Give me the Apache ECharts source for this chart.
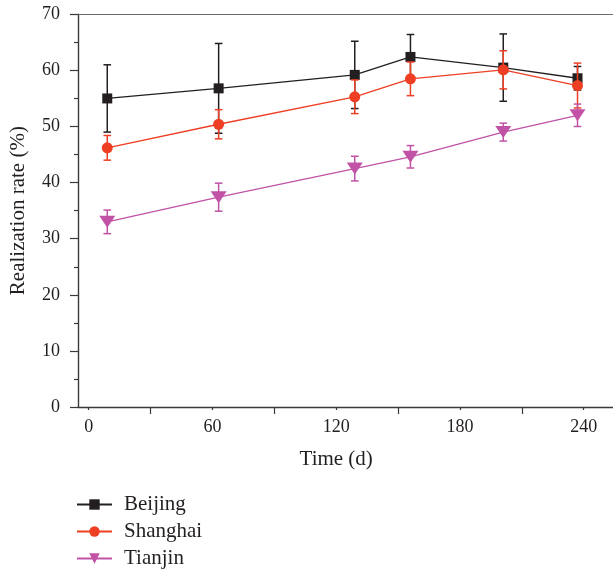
<!DOCTYPE html>
<html>
<head>
<meta charset="utf-8">
<script src="https://cdn.jsdelivr.net/npm/echarts@6/dist/echarts.min.js"></script>
<style>
html,body{margin:0;padding:0;background:#fff;}
#chart{width:613px;height:571px;}
</style>
</head>
<body>
<div id="chart"></div>
<script>
// ---- data ----
var timeDays = [9, 63, 129, 156, 201, 237];
var beijing = [55.0, 56.8, 59.2, 62.4, 60.5, 58.6];
var beijingErr = [6.0, 8.0, 6.0, 4.0, 6.0, 2.1];
var shanghai = [46.2, 50.4, 55.3, 58.5, 60.1, 57.3];
var shanghaiErr = [2.2, 2.6, 3.0, 3.0, 3.4, 4.0];
var tianjin = [33.0, 37.4, 42.5, 44.6, 49.0, 52.0];
var tianjinErr = [2.1, 2.5, 2.2, 2.0, 1.6, 2.0];
var seriesNames = ['Beijing', 'Shanghai', 'Tianjin'];
var xTicks = [0, 60, 120, 180, 240];
var yTicks = [0, 10, 20, 30, 40, 50, 60, 70];

var colors = ['#231f20', '#ee3e24', '#c152a5'];
var FONT = '"Liberation Serif", "Times New Roman", serif';
var TXT = '#231f20';

function pairs(xs, ys) { return xs.map(function (x, i) { return [x, ys[i]]; }); }
function triples(xs, ys, es) { return xs.map(function (x, i) { return [x, ys[i], es[i]]; }); }

function errorRender(color) {
  return function (params, api) {
    var x = api.value(0), y = api.value(1), e = api.value(2);
    var top = api.coord([x, y + e]);
    var bot = api.coord([x, y - e]);
    var hw = 3.8;
    var st = { stroke: color, lineWidth: 1.5 };
    return {
      type: 'group',
      children: [
        { type: 'line', shape: { x1: top[0], y1: top[1], x2: bot[0], y2: bot[1] }, style: st },
        { type: 'line', shape: { x1: top[0] - hw, y1: top[1], x2: top[0] + hw, y2: top[1] }, style: st },
        { type: 'line', shape: { x1: bot[0] - hw, y1: bot[1], x2: bot[0] + hw, y2: bot[1] }, style: st }
      ]
    };
  };
}

var chart = echarts.init(document.getElementById('chart'), null, { renderer: 'canvas' });

var gridTop = 14.3, gridBottom = 571 - 407;

var option = {
  animation: false,
  backgroundColor: '#fff',
  textStyle: { fontFamily: FONT },
  grid: [
    { left: 76, right: 0, top: gridTop, bottom: gridBottom },
    { left: 88.7, right: 613 - 583.7, top: gridTop, bottom: gridBottom }
  ],
  xAxis: [
    { // frame bottom line
      gridIndex: 0, type: 'value', min: 0, max: 1, position: 'bottom',
      axisLine: { show: true, lineStyle: { color: '#3a3a3a', width: 1.4 } },
      axisTick: { show: false }, axisLabel: { show: false }, splitLine: { show: false }
    },
    { // frame top line
      gridIndex: 0, type: 'value', min: 0, max: 1, position: 'top',
      axisLine: { show: true, onZero: false, lineStyle: { color: '#6a6a6a', width: 1.2 } },
      axisTick: { show: false }, axisLabel: { show: false }, splitLine: { show: false }
    },
    { // data x axis
      gridIndex: 1, type: 'value', min: 0, max: 240, interval: 60, position: 'bottom',
      axisLine: { show: false },
      axisTick: { show: true, inside: false, length: 3, lineStyle: { color: '#3a3a3a', width: 1.2 } },
      minorTick: { show: true, splitNumber: 2, length: 7, lineStyle: { color: '#3a3a3a', width: 1.2 } },
      axisLabel: {
        margin: 11, color: TXT, fontSize: 18, fontFamily: FONT,
        formatter: function (v) { return xTicks.indexOf(v) >= 0 ? String(v) : ''; }
      },
      splitLine: { show: false },
      name: 'Time (d)', nameLocation: 'middle', nameGap: 42,
      nameTextStyle: { color: TXT, fontSize: 21, fontFamily: FONT }
    }
  ],
  yAxis: [
    { // visible y axis
      gridIndex: 0, type: 'value', min: 0, max: 70, interval: 10,
      axisLine: { show: true, lineStyle: { color: '#3a3a3a', width: 1.4 } },
      axisTick: { show: true, inside: false, length: 8, lineStyle: { color: '#3a3a3a', width: 1.2 } },
      minorTick: { show: true, splitNumber: 2, length: 4, lineStyle: { color: '#3a3a3a', width: 1.2 } },
      axisLabel: {
        margin: 18, color: TXT, fontSize: 18, fontFamily: FONT,
        formatter: function (v) { return yTicks.indexOf(v) >= 0 ? String(v) : ''; }
      },
      splitLine: { show: false },
      name: 'Realization rate (%)', nameLocation: 'middle', nameGap: 49,
      nameTextStyle: { color: TXT, fontSize: 21, fontFamily: FONT }
    },
    { // data y axis (hidden)
      gridIndex: 1, type: 'value', min: 0, max: 70, interval: 10, show: false
    }
  ],
  legend: {
    orient: 'vertical', left: 76, top: 494, height: 120, padding: 0,
    itemWidth: 35, itemHeight: 13, itemGap: 6,
    data: seriesNames,
    textStyle: { color: TXT, fontSize: 21, fontFamily: FONT, padding: [0, 0, 0, 7] }
  },
  series: [
    {
      type: 'custom', name: 'Beijing err', xAxisIndex: 2, yAxisIndex: 1, z: 2,
      renderItem: errorRender(colors[0]), data: triples(timeDays, beijing, beijingErr)
    },
    {
      type: 'line', name: seriesNames[0], xAxisIndex: 2, yAxisIndex: 1, z: 3,
      data: pairs(timeDays, beijing), color: colors[0],
      symbol: 'rect', symbolSize: 10,
      lineStyle: { color: colors[0], width: 1.3 },
      itemStyle: { color: colors[0] }
    },
    {
      type: 'custom', name: 'Shanghai err', xAxisIndex: 2, yAxisIndex: 1, z: 4,
      renderItem: errorRender(colors[1]), data: triples(timeDays, shanghai, shanghaiErr)
    },
    {
      type: 'line', name: seriesNames[1], xAxisIndex: 2, yAxisIndex: 1, z: 5,
      data: pairs(timeDays, shanghai), color: colors[1],
      symbol: 'circle', symbolSize: 11,
      lineStyle: { color: colors[1], width: 1.3 },
      itemStyle: { color: colors[1] }
    },
    {
      type: 'custom', name: 'Tianjin err', xAxisIndex: 2, yAxisIndex: 1, z: 6,
      renderItem: errorRender(colors[2]), data: triples(timeDays, tianjin, tianjinErr)
    },
    {
      type: 'line', name: seriesNames[2], xAxisIndex: 2, yAxisIndex: 1, z: 7,
      data: pairs(timeDays, tianjin), color: colors[2],
      symbol: 'triangle', symbolRotate: 180, symbolSize: [16, 12],
      lineStyle: { color: colors[2], width: 1.3 },
      itemStyle: { color: colors[2] }
    }
  ]
};

chart.setOption(option);
</script>
</body>
</html>
